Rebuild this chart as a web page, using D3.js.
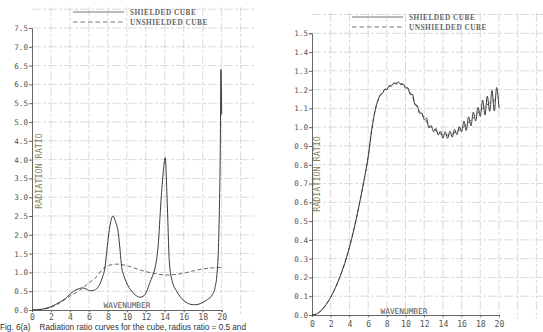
<!DOCTYPE html>
<html>
<head>
<meta charset="utf-8">
<script src="https://cdn.jsdelivr.net/npm/d3@7/dist/d3.min.js"></script>
<style>
  html, body { margin: 0; padding: 0; background: #ffffff; }
  svg { display: block; }
  .tick text { font-family: "DejaVu Sans Mono", monospace; fill: #555; }
</style>
</head>
<body>
<svg id="fig" width="543" height="332"></svg>
<script>
// ---- Panel (a): radius ratio curves with strong resonances ----
const xTicks = [0, 2, 4, 6, 8, 10, 12, 14, 16, 18, 20];

const leftYTicks = [0, 0.5, 1, 1.5, 2, 2.5, 3, 3.5, 4, 4.5, 5, 5.5, 6, 6.5, 7, 7.5];
const leftShielded = [
  [0, 0], [1, 0.02], [2, 0.09], [3, 0.22], [3.5, 0.3], [4, 0.42], [4.5, 0.52],
  [5, 0.57], [5.3, 0.59], [5.7, 0.56], [6.2, 0.51], [6.6, 0.53], [7, 0.62],
  [7.4, 0.85], [7.7, 1.15], [7.9, 1.6], [8.1, 2.04], [8.3, 2.35], [8.55, 2.5],
  [8.8, 2.35], [9.1, 2.04], [9.3, 1.55], [9.45, 1.15], [9.7, 0.9], [10, 0.71],
  [10.5, 0.5], [11, 0.38], [11.4, 0.34], [11.8, 0.38], [12.1, 0.5], [12.4, 0.71],
  [12.7, 0.9], [13, 1.15], [13.3, 1.7], [13.6, 2.9], [13.85, 3.7], [14.05, 4.05],
  [14.25, 2.9], [14.5, 1.2], [14.85, 0.71], [15.2, 0.52], [15.6, 0.36], [16, 0.25],
  [16.5, 0.17], [17, 0.14], [17.5, 0.15], [18, 0.2], [18.5, 0.28], [19, 0.4],
  [19.3, 0.6], [19.5, 0.95], [19.65, 1.6], [19.75, 2.6], [19.85, 4.3], [19.92, 6.4],
  [20, 5.2]
];
const leftUnshielded = [
  [0, 0], [1, 0.01], [2, 0.07], [3, 0.2], [4, 0.37], [5, 0.52], [6, 0.72],
  [6.7, 0.86], [7.5, 1.1], [8, 1.18], [9, 1.22], [10, 1.18], [11, 1.1],
  [12, 1.02], [13, 0.97], [14, 0.93], [15, 0.94], [16, 0.98], [17, 1.04],
  [18, 1.09], [19, 1.12], [20, 1.13]
];

// ---- Panel (b): small-ripple curves ----
const rightYTicks = [0, 0.1, 0.2, 0.3, 0.4, 0.5, 0.6, 0.7, 0.8, 0.9, 1.0, 1.1, 1.2, 1.3, 1.4, 1.5];
const rightShielded = [
  [0, 0], [0.5, 0.006], [1, 0.025], [1.5, 0.055], [2, 0.095], [2.5, 0.145], [3, 0.205],
  [3.5, 0.275], [4, 0.36], [4.5, 0.46], [5, 0.575], [5.5, 0.7], [6, 0.84], [6.4, 0.99],
  [6.8, 1.1], [7.05, 1.142], [7.3, 1.172], [7.55, 1.18], [7.8, 1.203], [8, 1.199], [8.25, 1.221],
  [8.5, 1.219], [8.75, 1.236], [9, 1.229], [9.25, 1.241], [9.5, 1.226], [9.75, 1.231],
  [10, 1.209], [10.25, 1.21], [10.5, 1.175], [10.75, 1.175], [11, 1.12], [11.25, 1.115],
  [11.5, 1.075], [11.75, 1.075], [12, 1.04], [12.25, 1.049], [12.5, 0.996], [12.75, 1.009],
  [13, 0.976], [13.25, 0.994], [13.5, 0.958], [13.75, 0.979], [14, 0.942], [14.25, 0.976],
  [14.5, 0.94], [14.75, 0.978], [15, 0.947], [15.25, 0.988], [15.5, 0.96], [15.75, 1.003],
  [16, 0.975], [16.25, 1.033], [16.5, 0.983], [16.75, 1.055], [17, 1.007], [17.25, 1.08],
  [17.5, 1.033], [17.75, 1.105], [18, 1.058], [18.25, 1.145], [18.5, 1.065], [18.75, 1.165],
  [19, 1.085], [19.25, 1.196], [19.5, 1.087], [19.75, 1.211], [20, 1.102]
];
const rightUnshielded = [
  [0, 0], [0.5, 0.006], [1, 0.025], [1.5, 0.055], [2, 0.095], [2.5, 0.145], [3, 0.205],
  [3.5, 0.275], [4, 0.36], [4.5, 0.46], [5, 0.575], [5.5, 0.7], [6, 0.84], [6.4, 0.99],
  [6.8, 1.1], [7.3, 1.17], [7.8, 1.2], [8.5, 1.225], [9, 1.235],
  [9.5, 1.232], [10, 1.215], [10.5, 1.185], [11, 1.13], [11.5, 1.085], [12, 1.05],
  [12.5, 1.01], [13, 0.99], [13.5, 0.972], [14, 0.96], [14.5, 0.958], [15, 0.965],
  [15.5, 0.978], [16, 0.993], [16.5, 1.013], [17, 1.037], [17.5, 1.063], [18, 1.088],
  [18.5, 1.11], [19, 1.13], [19.5, 1.145], [20, 1.16]
];

const legendLabels = ["SHIELDED CUBE", "UNSHIELDED CUBE"];
const yTitle = "RADIATION RATIO";
const xTitle = "WAVENUMBER";
const caption = "Fig. 6(a)    Radiation ratio curves for the cube, radius ratio = 0.5 and";

const svg = d3.select("#fig");
svg.append("rect").attr("width", 543).attr("height", 332).attr("fill", "#ffffff");

function panel(cfg) {
  const x = d3.scaleLinear().domain([0, 20]).range(cfg.xRange);
  const y = d3.scaleLinear().domain([0, cfg.yMax]).range(cfg.yRange);
  const g = svg.append("g");

  // paper grid, extending past the plotted range
  const grid = g.append("g").attr("stroke", "#d2d2d2").attr("stroke-width", 0.8)
    .attr("stroke-dasharray", "9,2,3,2");
  cfg.gridX.forEach(v => grid.append("line")
    .attr("x1", x(v)).attr("x2", x(v))
    .attr("y1", cfg.gridTop).attr("y2", cfg.yRange[0] + 4));
  cfg.gridY.forEach(v => grid.append("line")
    .attr("x1", cfg.xRange[0]).attr("x2", cfg.gridRight)
    .attr("y1", y(v)).attr("y2", y(v)));

  // axes
  const yAxis = g.append("g").attr("transform", `translate(${cfg.xRange[0]},0)`)
    .call(d3.axisLeft(y).tickValues(cfg.yTicks).tickFormat(d3.format(".1f")).tickSize(3).tickPadding(1));
  yAxis.selectAll("text").attr("font-size", 7.6);
  const xAxis = g.append("g").attr("transform", `translate(0,${cfg.yRange[0]})`)
    .call(d3.axisBottom(x).tickValues(xTicks).tickFormat(d3.format("d")).tickSize(2).tickPadding(cfg.xPad));
  xAxis.selectAll("text").attr("font-size", 8.2);
  g.selectAll(".domain").attr("stroke", "#666").attr("stroke-width", 1);
  g.selectAll(".tick line").attr("stroke", "#666");

  // axis titles
  g.append("text")
    .attr("transform", `translate(${cfg.yTitleX},${cfg.yTitleY}) rotate(-90)`)
    .attr("text-anchor", "middle").attr("dominant-baseline", "central")
    .attr("font-family", "DejaVu Sans Mono, monospace").attr("font-size", 8.4)
    .attr("fill", "#8c8058").text(yTitle);
  g.append("text")
    .attr("x", cfg.xTitleX).attr("y", cfg.xTitleY)
    .attr("text-anchor", "middle")
    .attr("font-family", "DejaVu Sans Mono, monospace").attr("font-size", 7.8)
    .attr("fill", "#555").text(xTitle);

  // curves
  const line = d3.line().x(d => x(d[0])).y(d => y(d[1])).curve(d3.curveMonotoneX);
  g.append("path").datum(cfg.unshielded).attr("d", line)
    .attr("fill", "none").attr("stroke", "#555").attr("stroke-width", 0.9)
    .attr("stroke-dasharray", "4,2.5");
  g.append("path").datum(cfg.shielded).attr("d", line)
    .attr("fill", "none").attr("stroke", "#3a3a3a").attr("stroke-width", 1);

  // legend
  const lg = g.append("g");
  legendLabels.forEach((lab, i) => {
    const ly = cfg.legY + i * 10;
    lg.append("line").attr("x1", cfg.legX).attr("x2", cfg.legX + 51)
      .attr("y1", ly).attr("y2", ly)
      .attr("stroke", "#666").attr("stroke-width", 0.9)
      .attr("stroke-dasharray", i === 0 ? null : "4.5,3");
    lg.append("text").attr("x", cfg.legX + 57).attr("y", ly)
      .attr("dominant-baseline", "central")
      .attr("font-family", "Liberation Serif, serif").attr("font-size", 7.3)
      .attr("letter-spacing", 0.5).attr("font-weight", "bold")
      .attr("fill", "#666").text(lab);
  });
}

panel({
  xRange: [32, 221.7], yRange: [310, 28], yMax: 7.5, yTicks: leftYTicks,
  gridX: [2, 4, 6, 8, 10, 12, 14, 16, 18, 20, 22], gridY: d3.range(0.5, 8.01, 0.5),
  gridTop: 7, gridRight: 254, xPad: 2,
  yTitleX: 39, yTitleY: 171, xTitleX: 127, xTitleY: 308,
  legX: 73, legY: 12,
  shielded: leftShielded, unshielded: leftUnshielded
});

panel({
  xRange: [312, 499], yRange: [315, 33.3], yMax: 1.5, yTicks: rightYTicks,
  gridX: [2, 4, 6, 8, 10, 12, 14, 16, 18, 20, 22, 24], gridY: d3.range(0.1, 1.61, 0.1),
  gridTop: 13, gridRight: 543, xPad: 4,
  yTitleX: 317, yTitleY: 174, xTitleX: 404, xTitleY: 314,
  legX: 352, legY: 17,
  shielded: rightShielded, unshielded: rightUnshielded
});

svg.append("text").attr("x", 0).attr("y", 329.5)
  .attr("font-family", "Liberation Sans, Arial, sans-serif").attr("font-size", 8.2)
  .style("white-space", "pre")
  .attr("fill", "#333").text(caption);
</script>
</body>
</html>
